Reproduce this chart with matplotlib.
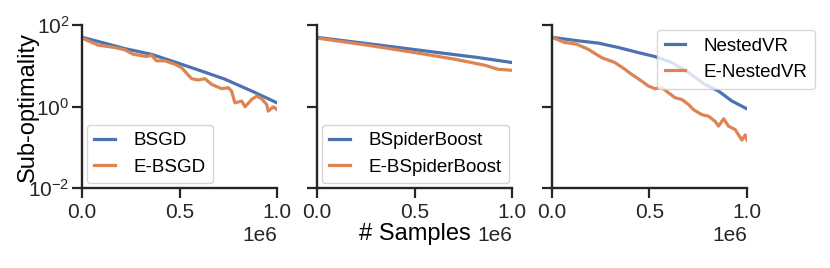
import numpy as np
import matplotlib
matplotlib.use("Agg")
import matplotlib.pyplot as plt

plt.rcParams['font.family'] = ['Liberation Sans', 'DejaVu Sans']
plt.rcParams['mathtext.fontset'] = 'custom'
plt.rcParams['mathtext.rm'] = 'Liberation Sans'
plt.rcParams['mathtext.it'] = 'Liberation Sans:italic'
plt.rcParams['axes.edgecolor'] = '#262626'
plt.rcParams['axes.linewidth'] = 1.7
plt.rcParams['xtick.color'] = '#262626'
plt.rcParams['ytick.color'] = '#262626'

blue = '#4C72B0'
orange = '#DD8452'

# values (samples, sub-optimality)
bsgd_x = [0, 135e3, 220e3, 356e3, 477e3, 613e3, 733e3, 870e3, 1e6]
bsgd_y = [50.1, 33.9, 26.3, 19.1, 12.3, 7.41, 4.68, 2.40, 1.23]

ebsgd_x = [0, 82e3, 168e3, 219e3, 262e3, 331e3, 356e3, 382e3, 425e3, 476e3,
           510e3, 562e3, 596e3, 630e3, 665e3, 716e3, 750e3, 767e3, 784e3, 819e3,
           836e3, 870e3, 896e3, 921e3, 947e3, 955e3, 981e3, 1e6]
ebsgd_y = [48.0, 32.1, 28.1, 24.6, 19.2, 16.8, 18.2, 13.2, 13.2, 10.9,
           9.02, 4.82, 4.47, 4.82, 3.49, 2.73, 2.89, 2.39, 1.23, 1.36,
           0.98, 1.49, 1.80, 1.55, 1.12, 0.77, 0.98, 0.84]

bsb_x = [0, 279e3, 620e3, 826e3, 1e6]
bsb_y = [49.7, 34.0, 21.1, 15.9, 12.0]

ebsb_x = [0, 279e3, 500e3, 706e3, 860e3, 928e3, 1e6]
ebsb_y = [47.8, 30.9, 21.1, 14.5, 10.3, 8.2, 7.74]

nvr_x = [0, 134e3, 237e3, 340e3, 442e3, 528e3, 614e3, 700e3, 785e3, 854e3,
         923e3, 957e3, 1e6]
nvr_y = [49.7, 41.0, 36.0, 28.1, 21.1, 16.8, 12.0, 6.78, 3.49, 2.39,
         1.36, 1.12, 0.875]

envr_x = [0, 65e3, 125e3, 185e3, 254e3, 322e3, 374e3, 408e3, 460e3, 494e3,
          528e3, 563e3, 597e3, 631e3, 666e3, 700e3, 725e3, 769e3, 802e3, 837e3,
          854e3, 880e3, 905e3, 940e3, 957e3, 974e3, 991e3, 1e6]
envr_y = [49.7, 37.3, 34.0, 25.5, 15.9, 12.0, 8.20, 6.17, 4.22, 3.18,
          2.73, 2.89, 2.18, 1.64, 1.49, 1.12, 0.84, 0.63, 0.58, 0.43,
          0.33, 0.50, 0.33, 0.27, 0.20, 0.15, 0.20, 0.15]

panels = [
    (bsgd_x, bsgd_y, 'BSGD', ebsgd_x, ebsgd_y, 'E-BSGD'),
    (bsb_x, bsb_y, 'BSpiderBoost', ebsb_x, ebsb_y, 'E-BSpiderBoost'),
    (nvr_x, nvr_y, 'NestedVR', envr_x, envr_y, 'E-NestedVR'),
]

fig, axes = plt.subplots(1, 3, figsize=(8.3, 2.68), dpi=100, sharey=True)
fig.subplots_adjust(left=0.0988, right=0.9, bottom=0.2985, top=0.9067, wspace=0.205)

for i, (ax, (x1, y1, l1, x2, y2, l2)) in enumerate(zip(axes, panels)):
    ax.plot(x1, y1, color=blue, lw=2.3, label=l1)
    ax.plot(x2, y2, color=orange, lw=2.3, label=l2)
    ax.set_yscale('log')
    ax.set_ylim(1e-2, 1e2)
    ax.set_yticks([1e-2, 1, 1e2])
    ax.yaxis.set_minor_locator(matplotlib.ticker.NullLocator())
    ax.set_xlim(0, 1e6)
    ax.set_xticks([0, 5e5, 1e6])
    ax.tick_params(labelsize=15, length=7, width=1.6)
    ax.tick_params(axis='y', pad=2)
    ax.xaxis.get_offset_text().set_fontsize(15)
    ax.spines['top'].set_visible(False)
    ax.spines['right'].set_visible(False)
    if i < 2:
        ax.legend(loc='lower left', fontsize=13.5, borderaxespad=0.25,
                  handlelength=1.1, handletextpad=1.0)
    else:
        ax.legend(loc='upper right', bbox_to_anchor=(1.35, 0.97), fontsize=13.5,
                  borderaxespad=0, handlelength=1.1, handletextpad=1.0)

axes[0].set_ylabel('Sub-optimality', fontsize=17, labelpad=-8)
axes[1].set_xlabel('# Samples', fontsize=17, labelpad=1)

fig.savefig('out.png', dpi=100)
